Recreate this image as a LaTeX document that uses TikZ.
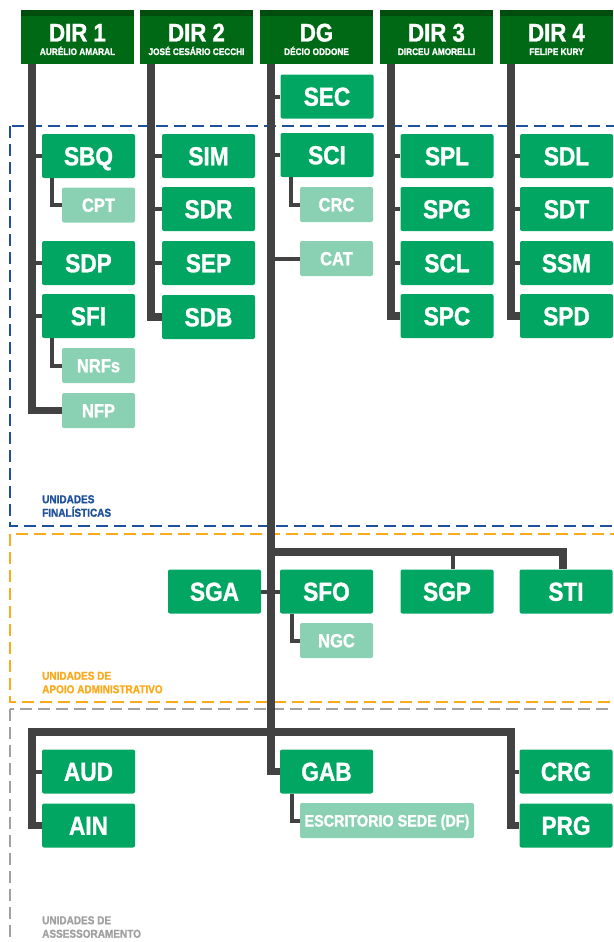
\documentclass[tikz,border=0pt]{standalone}
\usepackage{fontspec}
\setmainfont{Liberation Sans}[FakeStretch=0.87, BoldFeatures={FakeBold=1.2}]
\usepackage{tikz}

\definecolor{headgreen}{RGB}{0,105,22}
\definecolor{headtop}{RGB}{0,78,14}
\definecolor{unitgreen}{RGB}{0,166,98}
\definecolor{subgreen}{RGB}{137,209,178}
\definecolor{trunkgray}{RGB}{66,66,66}
\definecolor{finblue}{RGB}{31,80,156}
\definecolor{admorange}{RGB}{250,170,28}
\definecolor{asrgray}{RGB}{160,160,160}

\tikzset{
  head/.style={fill=headgreen, minimum width=113pt, minimum height=54pt, inner sep=0pt},
  headname/.style={anchor=base, text=white, inner sep=0pt, font={\bfseries\fontsize{25.5}{25}\selectfont}},
  headsub/.style={anchor=base, text=white, inner sep=0pt, font={\bfseries\fontsize{9.5}{10}\selectfont}},
  unit/.style={fill=unitgreen, rounded corners=2pt, minimum width=93pt, minimum height=44pt, inner sep=0pt,
    text=white, text height=18.5pt, text depth=0pt, font={\bfseries\fontsize{26}{26}\selectfont}},
  subunit/.style={fill=subgreen, rounded corners=2pt, minimum width=73pt, minimum height=35pt, inner sep=0pt,
    text=white, text height=13.5pt, text depth=0pt, font={\bfseries\fontsize{19}{19}\selectfont}},
  trunk/.style={draw=trunkgray, line width=7.5pt},
  branch/.style={draw=trunkgray, line width=4pt},
  zone/.style={line width=2pt, dash pattern=on 12pt off 6pt},
  zonetxt/.style={anchor=north west, align=left, inner sep=0pt, font={\bfseries\fontsize{11.5}{13.5}\selectfont}}
}

\begin{document}
\begin{tikzpicture}[x=1pt,y=-1pt]
  \useasboundingbox (0,0) rectangle (613,942);

  % zones
  \draw[zone, finblue] (10,126) rectangle (625,526);
  \draw[zone, admorange] (10,534) rectangle (625,702);
  \draw[zone, asrgray] (10,709) rectangle (625,960);
  \node[zonetxt, text=finblue] (finlbl) at (42,495) {UNIDADES\\FINALÍSTICAS};
  \node[zonetxt, text=admorange] (admlbl) at (42,671.5) {UNIDADES DE\\APOIO ADMINISTRATIVO};
  \node[zonetxt, text=asrgray] (asrlbl) at (42,916) {UNIDADES DE\\ASSESSORAMENTO};

  % directors
  \node[head] (dir1) at (77.5,37) {};
  \node[head] (dir2) at (196.5,37) {};
  \node[head] (dg) at (316.5,37) {};
  \node[head] (dir3) at (436.5,37) {};
  \node[head] (dir4) at (556.5,37) {};
  \fill[headtop] (dir1.north west) rectangle ([yshift=-6pt]dir1.north east);
  \fill[headtop] (dir2.north west) rectangle ([yshift=-6pt]dir2.north east);
  \fill[headtop] (dg.north west) rectangle ([yshift=-6pt]dg.north east);
  \fill[headtop] (dir3.north west) rectangle ([yshift=-6pt]dir3.north east);
  \fill[headtop] (dir4.north west) rectangle ([yshift=-6pt]dir4.north east);
  \node[headname] (dir1n) at (77.5,41.5) {DIR 1};
  \node[headsub] (dir1s) at (77.5,55) {AURÉLIO AMARAL};
  \node[headname] (dir2n) at (196.5,41.5) {DIR 2};
  \node[headsub] (dir2s) at (196.5,55) {JOSÉ CESÁRIO CECCHI};
  \node[headname] (dgn) at (316.5,41.5) {DG};
  \node[headsub] (dgs) at (316.5,55) {DÉCIO ODDONE};
  \node[headname] (dir3n) at (436.5,41.5) {DIR 3};
  \node[headsub] (dir3s) at (436.5,55) {DIRCEU AMORELLI};
  \node[headname] (dir4n) at (556.5,41.5) {DIR 4};
  \node[headsub] (dir4s) at (556.5,55) {FELIPE KURY};

  \coordinate (t1) at ([xshift=11pt]dir1.south west);
  \coordinate (t2) at ([xshift=11pt]dir2.south west);
  \coordinate (t3) at ([xshift=11pt]dg.south west);
  \coordinate (t4) at ([xshift=11pt]dir3.south west);
  \coordinate (t5) at ([xshift=11pt]dir4.south west);

  % unidades finalisticas
  \node[unit] (sbq) at (88.5,156) {SBQ};
  \node[subunit] (cpt) at (98.5,205) {CPT};
  \node[unit] (sdp) at (88.5,263) {SDP};
  \node[unit] (sfi) at (88.5,316) {SFI};
  \node[subunit] (nrfs) at (98.5,365.5) {NRFs};
  \node[subunit] (nfp) at (98.5,410.5) {NFP};

  \node[unit] (sim) at (208.5,156) {SIM};
  \node[unit] (sdr) at (208.5,209) {SDR};
  \node[unit] (sep) at (208.5,263) {SEP};
  \node[unit] (sdb) at (208.5,317) {SDB};

  \node[unit] (sec) at (327,96.5) {SEC};
  \node[unit] (sci) at (327,155) {SCI};
  \node[subunit] (crc) at (336.5,204.5) {CRC};
  \node[subunit] (cat) at (336.5,258.5) {CAT};

  \node[unit] (spl) at (447,156) {SPL};
  \node[unit] (spg) at (447,209) {SPG};
  \node[unit] (scl) at (447,263) {SCL};
  \node[unit] (spc) at (447,316) {SPC};

  \node[unit] (sdl) at (566.5,156) {SDL};
  \node[unit] (sdt) at (566.5,209) {SDT};
  \node[unit] (ssm) at (566.5,263) {SSM};
  \node[unit] (spd) at (566.5,316) {SPD};

  % apoio administrativo
  \node[unit] (sga) at (214.5,591.5) {SGA};
  \node[unit] (sfo) at (326.5,591.5) {SFO};
  \node[unit] (sgp) at (447,591.5) {SGP};
  \node[unit] (sti) at (566,591.5) {STI};
  \node[subunit] (ngc) at (336.5,640.5) {NGC};

  % assessoramento
  \node[unit] (aud) at (88.5,771.5) {AUD};
  \node[unit] (ain) at (88.5,825.5) {AIN};
  \node[unit] (gab) at (326.5,771.5) {GAB};
  \node[subunit, minimum width=174pt, text height=12pt, font={\bfseries\fontsize{16.5}{16.5}\selectfont}] (esc) at (387,820.5) {ESCRITORIO SEDE (DF)};
  \node[unit] (crg) at (566,771.5) {CRG};
  \node[unit] (prg) at (566,825.5) {PRG};

  % lines
  \draw[trunk] (t1) |- (nfp.west);
  \draw[branch] (t1 |- sbq) -- (sbq.west);
  \draw[branch] (t1 |- sdp) -- (sdp.west);
  \draw[branch] (t1 |- sfi) -- (sfi.west);
  \draw[branch] ([xshift=10pt]sbq.south west) |- (cpt.west);
  \draw[branch] ([xshift=10pt]sfi.south west) |- (nrfs.west);

  \draw[trunk] (t2) |- (sdb.west);
  \draw[branch] (t2 |- sim) -- (sim.west);
  \draw[branch] (t2 |- sdr) -- (sdr.west);
  \draw[branch] (t2 |- sep) -- (sep.west);

  \draw[trunk] (t3) |- (gab.west);
  \draw[branch] (t3 |- sec) -- (sec.west);
  \draw[branch] (t3 |- sci) -- (sci.west);
  \draw[branch] (t3 |- cat) -- (cat.west);
  \draw[branch] ([xshift=11pt]sci.south west) |- (crc.west);

  \draw[trunk] (t4) |- (spc.west);
  \draw[branch] (t4 |- spl) -- (spl.west);
  \draw[branch] (t4 |- spg) -- (spg.west);
  \draw[branch] (t4 |- scl) -- (scl.west);

  \draw[trunk] (t5) |- (spd.west);
  \draw[branch] (t5 |- sdl) -- (sdl.west);
  \draw[branch] (t5 |- sdt) -- (sdt.west);
  \draw[branch] (t5 |- ssm) -- (ssm.west);

  \coordinate (adm) at (t3 |- 0,552);
  \coordinate (stid) at ([xshift=-3pt]sti.north);
  \coordinate (sgpd) at ([xshift=6pt]sgp.north);
  \draw[trunk] (adm) -| (stid);
  \draw[branch] (sgpd |- adm) -- (sgpd);
  \draw[branch] (sga.east) -- (sfo.west);
  \draw[branch] ([xshift=12pt]sfo.south west) |- (ngc.west);

  \coordinate (asr) at (t3 |- 0,732);
  \draw[trunk] (ain.west) -| (t1 |- asr) -- (t5 |- asr) |- (prg.west);
  \draw[branch] (t1 |- aud) -- (aud.west);
  \draw[branch] (t5 |- crg) -- (crg.west);
  \draw[branch] ([xshift=12pt]gab.south west) |- (esc.west);
\end{tikzpicture}
\end{document}
